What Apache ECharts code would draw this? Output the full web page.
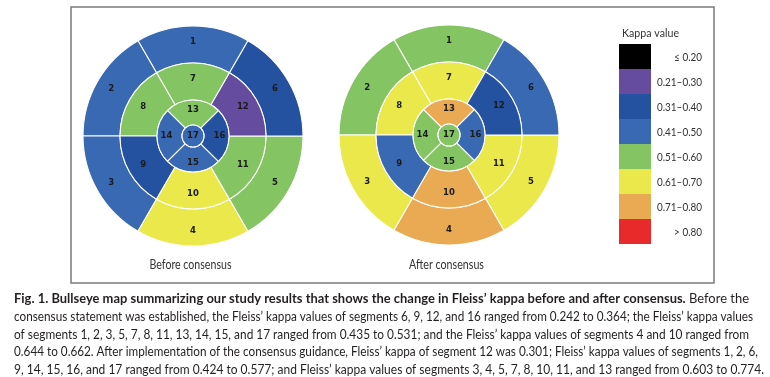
<!DOCTYPE html>
<html><head><meta charset="utf-8">
<script src="https://cdn.jsdelivr.net/npm/echarts@6/dist/echarts.min.js"></script>
<style>html,body{margin:0;padding:0;background:#fff}#c{width:770px;height:377px}</style>
</head><body><div id="c"></div>
<script>
// ---- data ----
const segmentIds = [1,2,3,4,5,6,7,8,9,10,11,12,13,14,15,16,17];
const kappaBefore = [0.46,0.45,0.44,0.662,0.531,0.36,0.52,0.52,0.364,0.644,0.53,0.242,0.51,0.435,0.47,0.35,0.48];
const kappaAfter  = [0.55,0.54,0.65,0.774,0.66,0.46,0.62,0.64,0.424,0.75,0.603,0.301,0.72,0.56,0.577,0.45,0.52];
const binUpper  = [0.20,0.30,0.40,0.50,0.60,0.70,0.80,Infinity];
const binLabels = ['\u2264 0.20','0.21\u20130.30','0.31\u20130.40','0.41\u20130.50','0.51\u20130.60','0.61\u20130.70','0.71\u20130.80','> 0.80'];
const binColors = ['#000000','#654c9e','#2451a0','#3a69b3','#84c462','#ebe84b','#e9aa53','#e92a2a'];
const panelTitles = ['Before consensus','After consensus'];
const legendTitle = 'Kappa value';
const captionBold = 'Fig. 1. Bullseye map summarizing our study results that shows the change in Fleiss\u2019 kappa before and after consensus.';
const captionLines = [
  ' Before the',
  'consensus statement was established, the Fleiss\u2019 kappa values of segments 6, 9, 12, and 16 ranged from 0.242 to 0.364; the Fleiss\u2019 kappa values',
  'of segments 1, 2, 3, 5, 7, 8, 11, 13, 14, 15, and 17 ranged from 0.435 to 0.531; and the Fleiss\u2019 kappa values of segments 4 and 10 ranged from',
  '0.644 to 0.662. After implementation of the consensus guidance, Fleiss\u2019 kappa of segment 12 was 0.301; Fleiss\u2019 kappa values of segments 1, 2, 6,',
  '9, 14, 15, 16, and 17 ranged from 0.424 to 0.577; and Fleiss\u2019 kappa values of segments 3, 4, 5, 7, 8, 10, 11, and 13 ranged from 0.603 to 0.774.'
];

// ---- layout ----
const rings = [
  {segs:[1,2,3,4,5,6], r:[73,110], start:60},
  {segs:[7,8,9,10,11,12], r:[36,73], start:60},
  {segs:[13,14,15,16], r:[11,36], start:45},
  {segs:[17], r:[0,11], start:90, center:true}
];
const panelCenters = [[193,136],[449,135]];
const titleX = [190.5, 446.5], titleW = [82, 75];
const capFont = 'Lato';
const capX = 14, capY = [299, 317, 335, 352, 370], capEnd = [749, 753, 749, 758, 764];

function colorOf(k){ for (let i=0;i<binUpper.length;i++) if (k<=binUpper[i]) return binColors[i]; }
const mctx = document.createElement('canvas').getContext('2d');
function tw(t, font){ mctx.font = font; return mctx.measureText(t).width; }

const series = [];
[kappaBefore, kappaAfter].forEach((kappa, p) => rings.forEach(ring => series.push({
  type:'pie', center: panelCenters[p], radius: ring.r, startAngle: ring.start, clockwise:false,
  silent:true, avoidLabelOverlap:false, animation:false,
  label:{show:true, position: ring.center ? 'center' : 'inside', formatter:'{b}', fontSize:8.5,
         fontWeight:'bold', fontFamily:'DejaVu Sans', color:'#1b1b1b'},
  labelLine:{show:false},
  itemStyle:{borderColor:'#ffffff', borderWidth:1.1},
  emphasis:{disabled:true},
  data: ring.segs.map(s => ({name:String(s), value:1, itemStyle:{color: colorOf(kappa[segmentIds.indexOf(s)])}}))
})));

const graphic = [];
graphic.push({type:'rect', shape:{x:71, y:7, width:643, height:276}, style:{fill:null, stroke:'#7a7a7a', lineWidth:1.5}, silent:true});
panelTitles.forEach((t,i) => {
  const f = '12.5px ' + capFont;
  graphic.push({type:'text', x:titleX[i], y:265, scaleX: titleW[i]/tw(t,f),
    style:{text:t, font:f, fill:'#333', textAlign:'center', textVerticalAlign:'middle'}});
});
{
  const f = '12px ' + capFont;
  graphic.push({type:'text', x:622, y:33, scaleX: 57/tw(legendTitle,f), style:{text:legendTitle, font:f, fill:'#333', textVerticalAlign:'middle'}});
}
const legF = '12px ' + capFont;
const legScale = 45 / tw(binLabels[1], legF);
binLabels.forEach((lab,i) => {
  graphic.push({type:'rect', shape:{x:619, y:44+25*i, width:32, height:25}, style:{fill:binColors[i]}, silent:true});
  graphic.push({type:'text', x:702, y:57+25*i, scaleX: legScale, style:{text:lab, font:legF, fill:'#333', textAlign:'right', textVerticalAlign:'middle'}});
});
captionLines.forEach((line,i) => {
  const fs = 12.5;
  const fN = fs + 'px ' + capFont, fB = 'bold ' + fs + 'px ' + capFont;
  let w, style;
  if (i === 0) {
    w = tw(captionBold, fB) + tw(line, fN);
    style = {text:'{b|'+captionBold+'}{n|'+line+'}', fill:'#231f20', textVerticalAlign:'middle',
      rich:{b:{fontFamily:capFont, fontSize:fs, fontWeight:'bold', fill:'#231f20'}, n:{fontFamily:capFont, fontSize:fs, fill:'#231f20'}}};
  } else {
    w = tw(line, fN);
    style = {text:line, font:fN, fill:'#231f20', textVerticalAlign:'middle'};
  }
  graphic.push({type:'text', x:capX, y:capY[i], scaleX:(capEnd[i]-capX)/w, style});
});

const chart = echarts.init(document.getElementById('c'), null, {renderer:'canvas'});
chart.setOption({animation:false, backgroundColor:'#fff', series, graphic});
</script>
</body></html>
